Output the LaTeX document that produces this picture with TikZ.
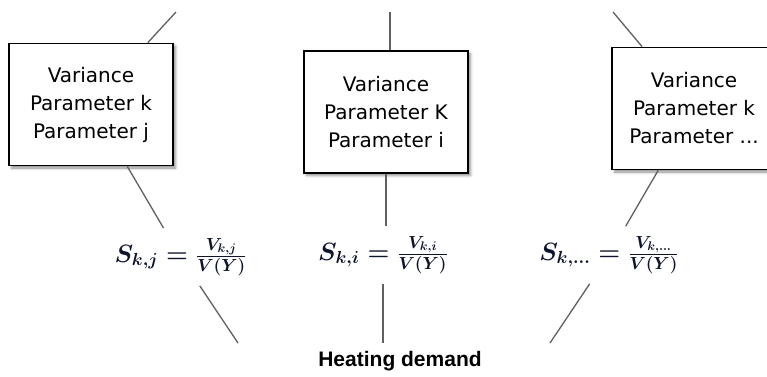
\RequirePackage{fix-cm}
\documentclass[tikz,border=0pt]{standalone}
\usepackage{fontspec}
\setmainfont{DejaVu Sans}
\newfontfamily\labelfont{Liberation Sans}
\usepackage{tikz}
\usetikzlibrary{shadows.blur, calc}
\definecolor{mathnavy}{RGB}{14,20,46}
\tikzset{
  varbox/.style={
    rectangle, draw=black, line width=1.6pt, fill=white,
    minimum width=164pt, minimum height=122pt,
    align=center, font=\fontsize{20}{28}\selectfont,
    blur shadow={shadow xshift=2.5pt, shadow yshift=-2.5pt,
                 shadow blur radius=2.5pt, shadow opacity=45}
  },
  sensnode/.style={
    text=mathnavy, font=\fontsize{25}{30}\selectfont\boldmath,
    inner sep=6pt, outer sep=4pt
  },
  linkline/.style={line width=1.3pt, color=gray!75!black},
}

\begin{document}
\begin{tikzpicture}[x=1pt,y=-1pt]
    \useasboundingbox (0,0) rectangle (767,376);
    \node[varbox] (bj) at (91,104.5) {Variance\\Parameter k\\Parameter j};
    \node[varbox] (bi) at (386,112)  {Variance\\Parameter K\\Parameter i};
    \node[varbox] (bd) at (694,108.5){Variance\\Parameter k\\Parameter ...};
    \node[sensnode] (sj) at (180.5,257) {$S_{k,j} = \frac{V_{k,j}}{V(Y)}$};
    \node[sensnode] (si) at (383,255)   {$S_{k,i} = \frac{V_{k,i}}{V(Y)}$};
    \node[sensnode] (sd) at (609,255)   {$S_{k,\dots} = \frac{V_{k,\dots}}{V(Y)}$};
    \node[font=\labelfont\bfseries\fontsize{21}{25}\selectfont]
         (hd) at (400,361) {Heating demand};
    \coordinate (tj) at (176,12);
    \coordinate (ti) at (390,12);
    \coordinate (td) at (613,12);
    \coordinate (lj) at (238,343);
    \coordinate (li) at (383,343);
    \coordinate (ld) at (550,343);
    \draw[linkline] (tj)--(bj);
    \draw[linkline] (ti)--(ti |- bi.north);
    \draw[linkline] (td)--(bd);
    \draw[linkline] (bj)--(sj);
    \draw[linkline] (bi)--(bi |- si.north);
    \draw[linkline] (bd)--(sd);
    \draw[linkline] (sj)--(lj);
    \draw[linkline] (si)--(li);
    \draw[linkline] (sd)--(ld);
  \end{tikzpicture}
\end{document}
